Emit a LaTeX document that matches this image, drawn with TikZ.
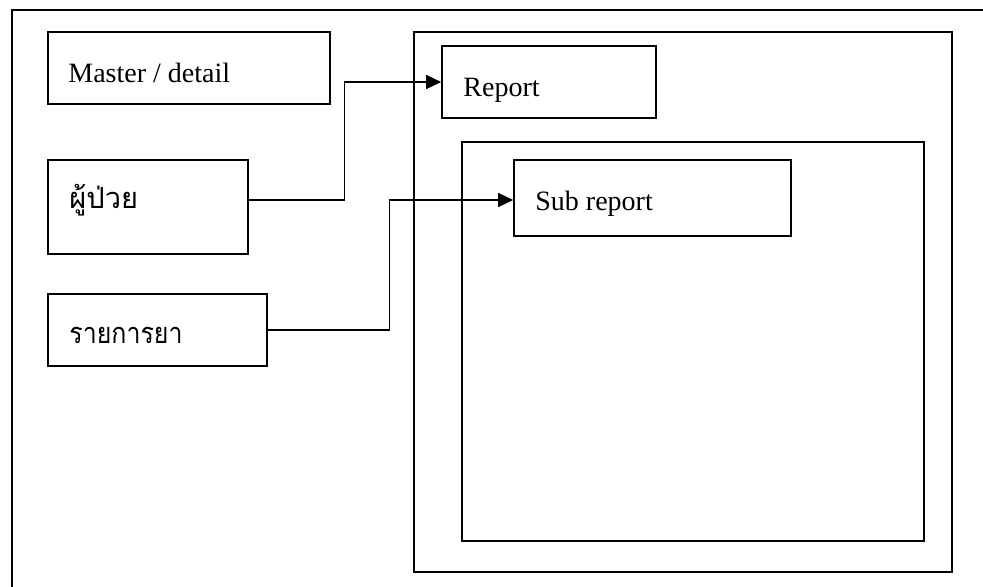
\documentclass[tikz,border=0pt]{standalone}
\usepackage{fontspec}
\setmainfont{Liberation Serif}
\newfontfamily\thaifont[Script=Thai]{Loma}
\newfontfamily\thainarrow[Script=Thai,FakeStretch=0.86]{Loma}
\usetikzlibrary{fit,arrows.meta}
\tikzset{
  box/.style={draw=black, line width=0.8pt, inner sep=0pt, rectangle},
  lbl/.style={anchor=base west, inner sep=0pt, font=\fontsize{14}{17}\selectfont},
  thlbl/.style={anchor=base west, inner sep=0pt, font=\thaifont\fontsize{14.5}{17}\selectfont},
  thnlbl/.style={anchor=base west, inner sep=0pt, font=\thainarrow\fontsize{14.5}{17}\selectfont},
  conn/.style={line width=0.7pt, -{Triangle[length=7.5pt,width=7pt]}},
}
\begin{document}
\begin{tikzpicture}[x=0.5pt,y=-0.5pt]
\useasboundingbox (0,0) rectangle (983,587);
% outer frame (right and bottom edges lie outside the page)
\draw[line width=0.9pt] (12,10) rectangle (1000,600);
% left column
\node[box, fit={(48,32)(330,104)}] (master) {};
\node[lbl] (mastert) at (68,83) {Master / detail};
\node[box, fit={(48,160)(248,254)}] (patient) {};
\node[thlbl] (patientt) at (69,209) {ผู้ป่วย};
\node[box, fit={(48,294)(267,366)}] (drugs) {};
\node[thnlbl] (drugst) at (69,343) {รายการยา};
% right side
\node[box, fit={(414,32)(952,572)}] (outerrep) {};
\node[box, fit={(442,46)(656,118)}] (report) {};
\node[lbl] (reportt) at (463,97) {Report};
\node[box, fit={(462,142)(924,541)}] (subarea) {};
\node[box, fit={(514,160)(791,236)}] (subrep) {};
\node[lbl] (subrept) at (535,211) {Sub report};
% connectors
\draw[conn] ([yshift=3.5pt]patient.east) -| ([xshift=-48.5pt]report.west) -- (report.west);
\draw[conn] (drugs.east) -| ([xshift=-62pt,yshift=-1pt]subrep.west) -- ([yshift=-1pt]subrep.west);
\end{tikzpicture}
\end{document}
